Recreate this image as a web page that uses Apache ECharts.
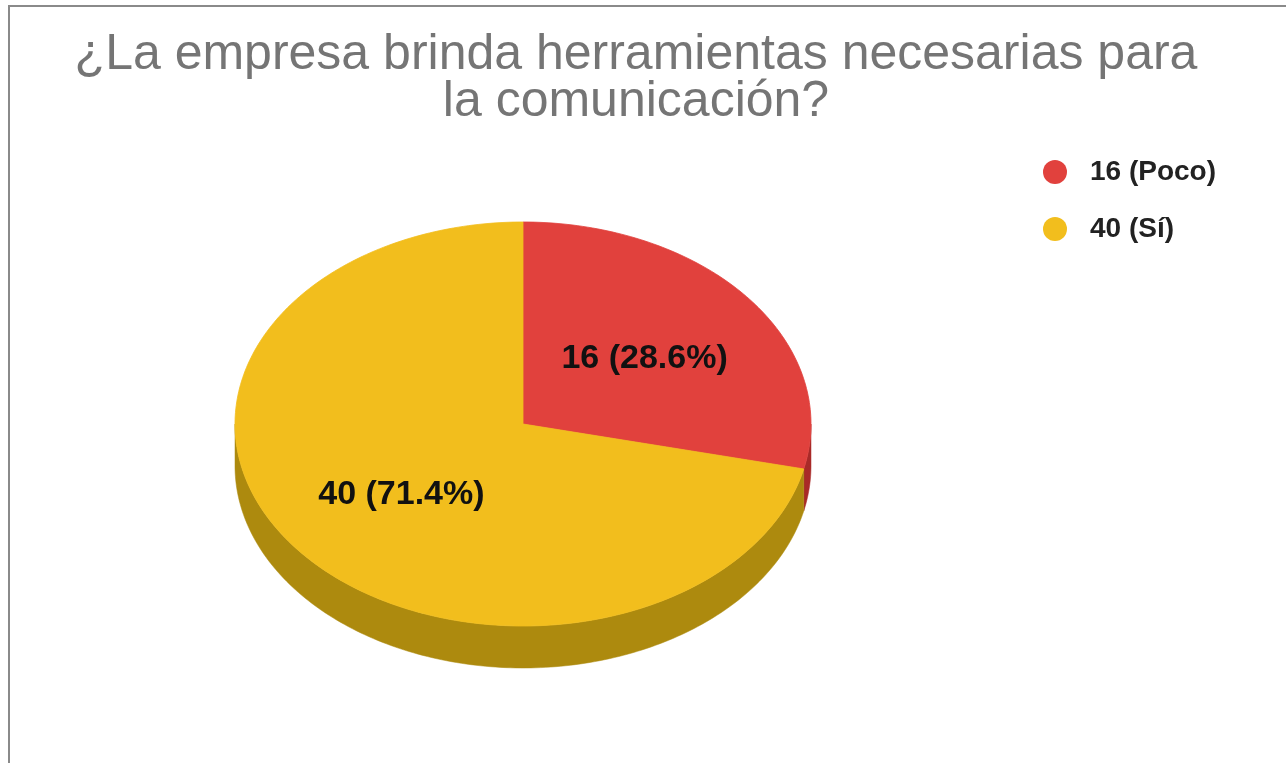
<!DOCTYPE html>
<html>
<head>
<meta charset="utf-8">
<script src="https://cdn.jsdelivr.net/npm/echarts@6/dist/echarts.min.js"></script>
<style>
html,body{margin:0;padding:0;background:#fff;}
#main{width:1286px;height:763px;}
</style>
</head>
<body>
<div id="main"></div>
<script>
// ---- data ----
const categories = ['Poco', 'Sí'];
const values = [16, 40];
const legendLabels = ['16 (Poco)', '40 (Sí)'];
const titleText = '¿La empresa brinda herramientas necesarias para\nla comunicación?';

// ---- styles ----
const FONT = '"Liberation Sans", Arial, Helvetica, sans-serif';
const topColors = ['#E1413D', '#F2BE1D'];
const sideColors = ['#A92A28', '#AD8A0E'];
const CX = 523, CY = 424, RX = 288, RY = 202, DEPTH = 42, LABEL_R = 0.54;

const total = values.reduce((a, b) => a + b, 0);
function pt(theta, dy) {
  return [CX + RX * Math.sin(theta), CY - RY * Math.cos(theta) + (dy || 0)];
}
function arcPoints(a1, a2, dy) {
  const pts = [];
  const n = Math.max(2, Math.ceil(Math.abs(a2 - a1) / (Math.PI / 180)));
  for (let k = 0; k <= n; k++) pts.push(pt(a1 + (a2 - a1) * k / n, dy));
  return pts;
}

function renderItem(params, api) {
  const i = params.seriesIndex;
  let before = 0;
  for (let k = 0; k < i; k++) before += values[k];
  const v = api.value(0);
  const a1 = before / total * Math.PI * 2;
  const a2 = (before + v) / total * Math.PI * 2;
  const children = [];
  // visible side (front half: PI/2 .. 3PI/2)
  const s1 = Math.max(a1, Math.PI / 2), s2 = Math.min(a2, Math.PI * 1.5);
  if (s2 > s1) {
    const top = arcPoints(s1, s2, 0);
    const bot = arcPoints(s2, s1, DEPTH);
    children.push({
      type: 'polygon',
      shape: { points: top.concat(bot) },
      style: { fill: sideColors[i], stroke: sideColors[i], lineWidth: 0.5 }
    });
  }
  // top face
  const face = [[CX, CY]].concat(arcPoints(a1, a2, 0));
  children.push({
    type: 'polygon',
    shape: { points: face },
    style: { fill: topColors[i], stroke: topColors[i], lineWidth: 0.8 }
  });
  // label
  const mid = (a1 + a2) / 2;
  const lx = CX + RX * LABEL_R * Math.sin(mid);
  const ly = CY - RY * LABEL_R * Math.cos(mid);
  const pct = (v / total * 100).toFixed(1);
  children.push({
    type: 'text',
    x: lx, y: ly + 3,
    style: {
      text: v + ' (' + pct + '%)',
      fill: '#111',
      fontFamily: FONT,
      fontWeight: 'bold',
      fontSize: 34,
      align: 'center',
      verticalAlign: 'middle'
    }
  });
  return { type: 'group', children: children };
}

const chart = echarts.init(document.getElementById('main'), null, { renderer: 'canvas' });
const series = categories.map((c, i) => ({
  type: 'custom',
  name: legendLabels[i],
  coordinateSystem: 'none',
  renderItem: renderItem,
  data: [values[i]],
  itemStyle: { color: topColors[i] },
  animation: false,
  silent: true
}));

chart.setOption({
  animation: false,
  backgroundColor: '#fff',
  textStyle: { fontFamily: FONT },
  title: {
    text: titleText,
    left: 631,
    textAlign: 'center',
    top: 27,
    textStyle: {
      color: '#757575',
      fontFamily: FONT,
      fontWeight: 'normal',
      fontSize: 50,
      lineHeight: 47
    }
  },
  legend: {
    orient: 'vertical',
    left: 1043,
    top: 157,
    padding: 0,
    icon: 'circle',
    itemWidth: 24,
    itemHeight: 24,
    itemGap: 27,
    data: legendLabels,
    selectedMode: false,
    textStyle: {
      color: '#222',
      fontFamily: FONT,
      fontWeight: 'bold',
      fontSize: 28,
      lineHeight: 30,
      padding: [0, 0, 0, 18]
    }
  },
  graphic: [{
    type: 'rect',
    z: -10,
    silent: true,
    shape: { x: 9, y: 6, width: 1300, height: 800 },
    style: { fill: 'none', stroke: '#8a8a8a', lineWidth: 2 }
  }],
  series: series
});
</script>
</body>
</html>
